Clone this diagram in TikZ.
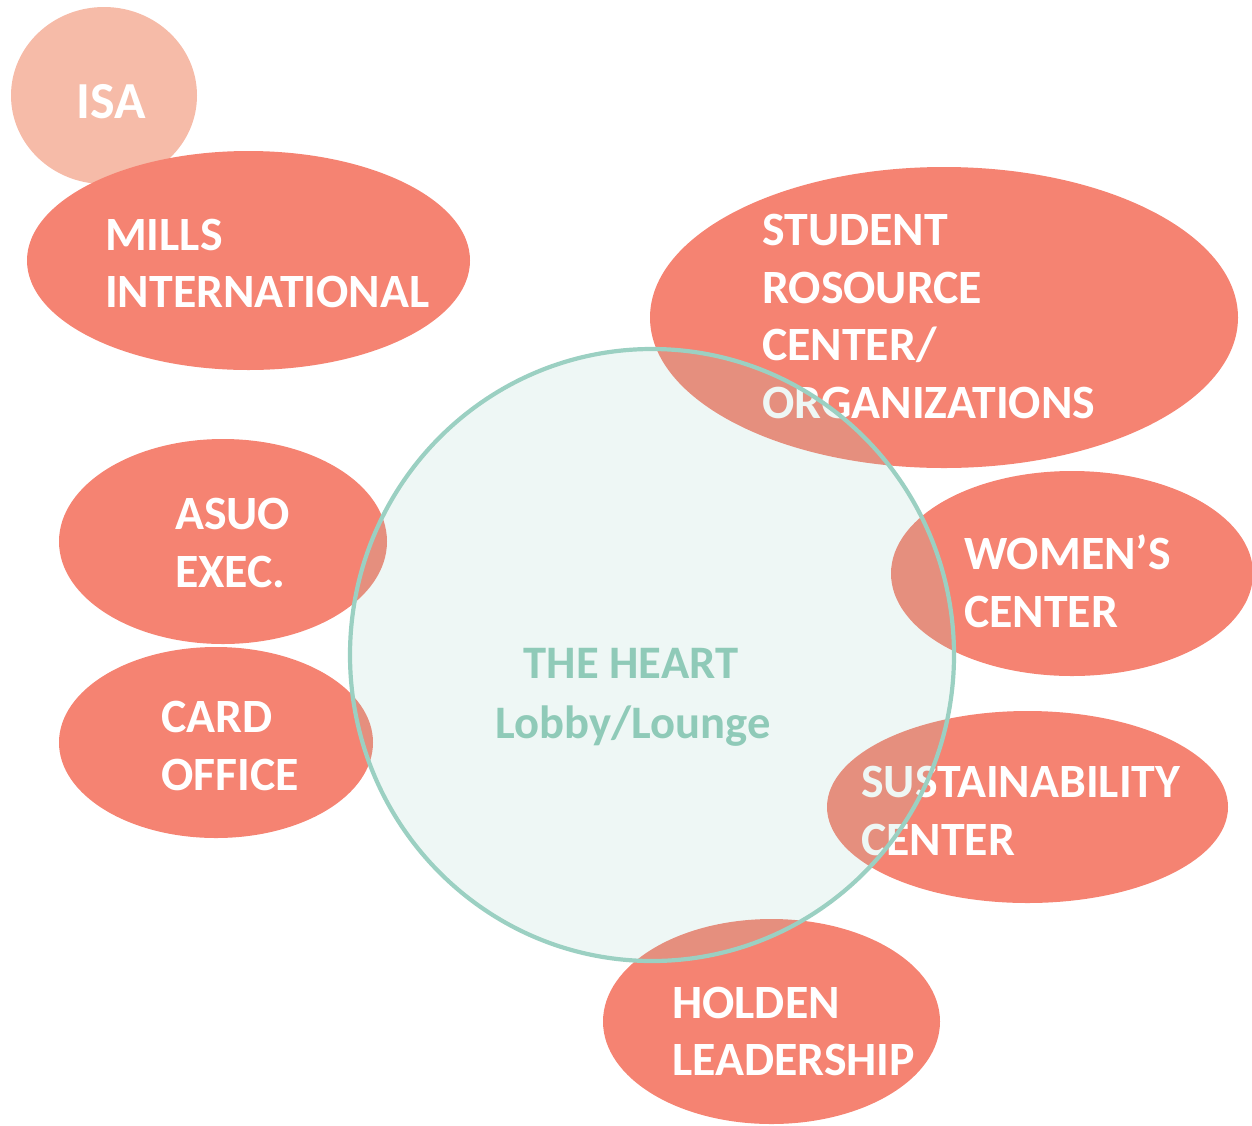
\documentclass[tikz,border=0pt]{standalone}
\usepackage{fontspec}
\setmainfont{Carlito}
\usetikzlibrary{shapes.geometric}
\definecolor{salmon}{HTML}{F58372}
\definecolor{isapink}{HTML}{F6BBA8}
\definecolor{mint}{HTML}{98CFC0}
\definecolor{mintline}{HTML}{9BD0C2}
\definecolor{minttext}{HTML}{8FCAB8}
\tikzset{
  blob/.style={ellipse, fill=salmon, draw=none, inner sep=0pt},
  lbl/.style={anchor=base west, inner sep=0pt, text=white, font=\fontsize{47.8}{56}\selectfont\bfseries},
  heartlbl/.style={anchor=base, inner sep=0pt, text=minttext, font=\fontsize{46.6}{56}\selectfont\bfseries},
}
\begin{document}
\begin{tikzpicture}[x=1pt,y=-1pt]
\useasboundingbox (0,0) rectangle (1252,1125);
% ellipses
\node[blob, fill=isapink, minimum width=186pt, minimum height=177pt] (isa) at (104,95.5) {};
\node[blob, minimum width=443pt, minimum height=219pt] (mills) at (248.5,260.5) {};
\node[blob, minimum width=588pt, minimum height=301pt] (src) at (944,317.5) {};
\node[blob, minimum width=328pt, minimum height=205pt] (asuo) at (223,541.5) {};
\node[blob, minimum width=314pt, minimum height=191pt] (card) at (216,742.5) {};
\node[blob, minimum width=362pt, minimum height=205pt] (women) at (1072,573.5) {};
\node[blob, minimum width=401pt, minimum height=192pt] (sust) at (1027.5,807) {};
\node[blob, minimum width=337pt, minimum height=205pt] (holden) at (771.5,1021.5) {};
% labels
\node[lbl, font=\fontsize{52}{56}\selectfont\bfseries] (isat) at (76,118) {ISA};
\node[lbl] (mills1) at (105,250) {MILLS};
\node[lbl] (mills2) at (105,307) {INTERNATIONAL};
\node[lbl] (src1) at (762,245) {STUDENT};
\node[lbl] (src2) at (762,303) {ROSOURCE};
\node[lbl] (src3) at (762,360) {CENTER/};
\node[lbl] (src4) at (762,418) {ORGANIZATIONS};
\node[lbl] (asuo1) at (175,529) {ASUO};
\node[lbl] (asuo2) at (175,587) {EXEC.};
\node[lbl] (card1) at (161,732) {CARD};
\node[lbl] (card2) at (161,790) {OFFICE};
\node[lbl] (women1) at (964,569) {WOMEN’S};
\node[lbl] (women2) at (964,627) {CENTER};
\node[lbl] (sust1) at (861,797) {SUSTAINABILITY};
\node[lbl] (sust2) at (861,855) {CENTER};
\node[lbl] (holden1) at (672,1018) {HOLDEN};
\node[lbl] (holden2) at (672,1075) {LEADERSHIP};
% the heart
\node[ellipse, draw=mintline, line width=4.2pt, fill=mint, fill opacity=0.165, draw opacity=1, minimum width=604pt, minimum height=612pt, inner sep=0pt] (heart) at (652,655) {};
\node[heartlbl] (heart1) at (631,678) {THE HEART};
\node[heartlbl] (heart2) at (633,738) {Lobby/Lounge};
\end{tikzpicture}
\end{document}
